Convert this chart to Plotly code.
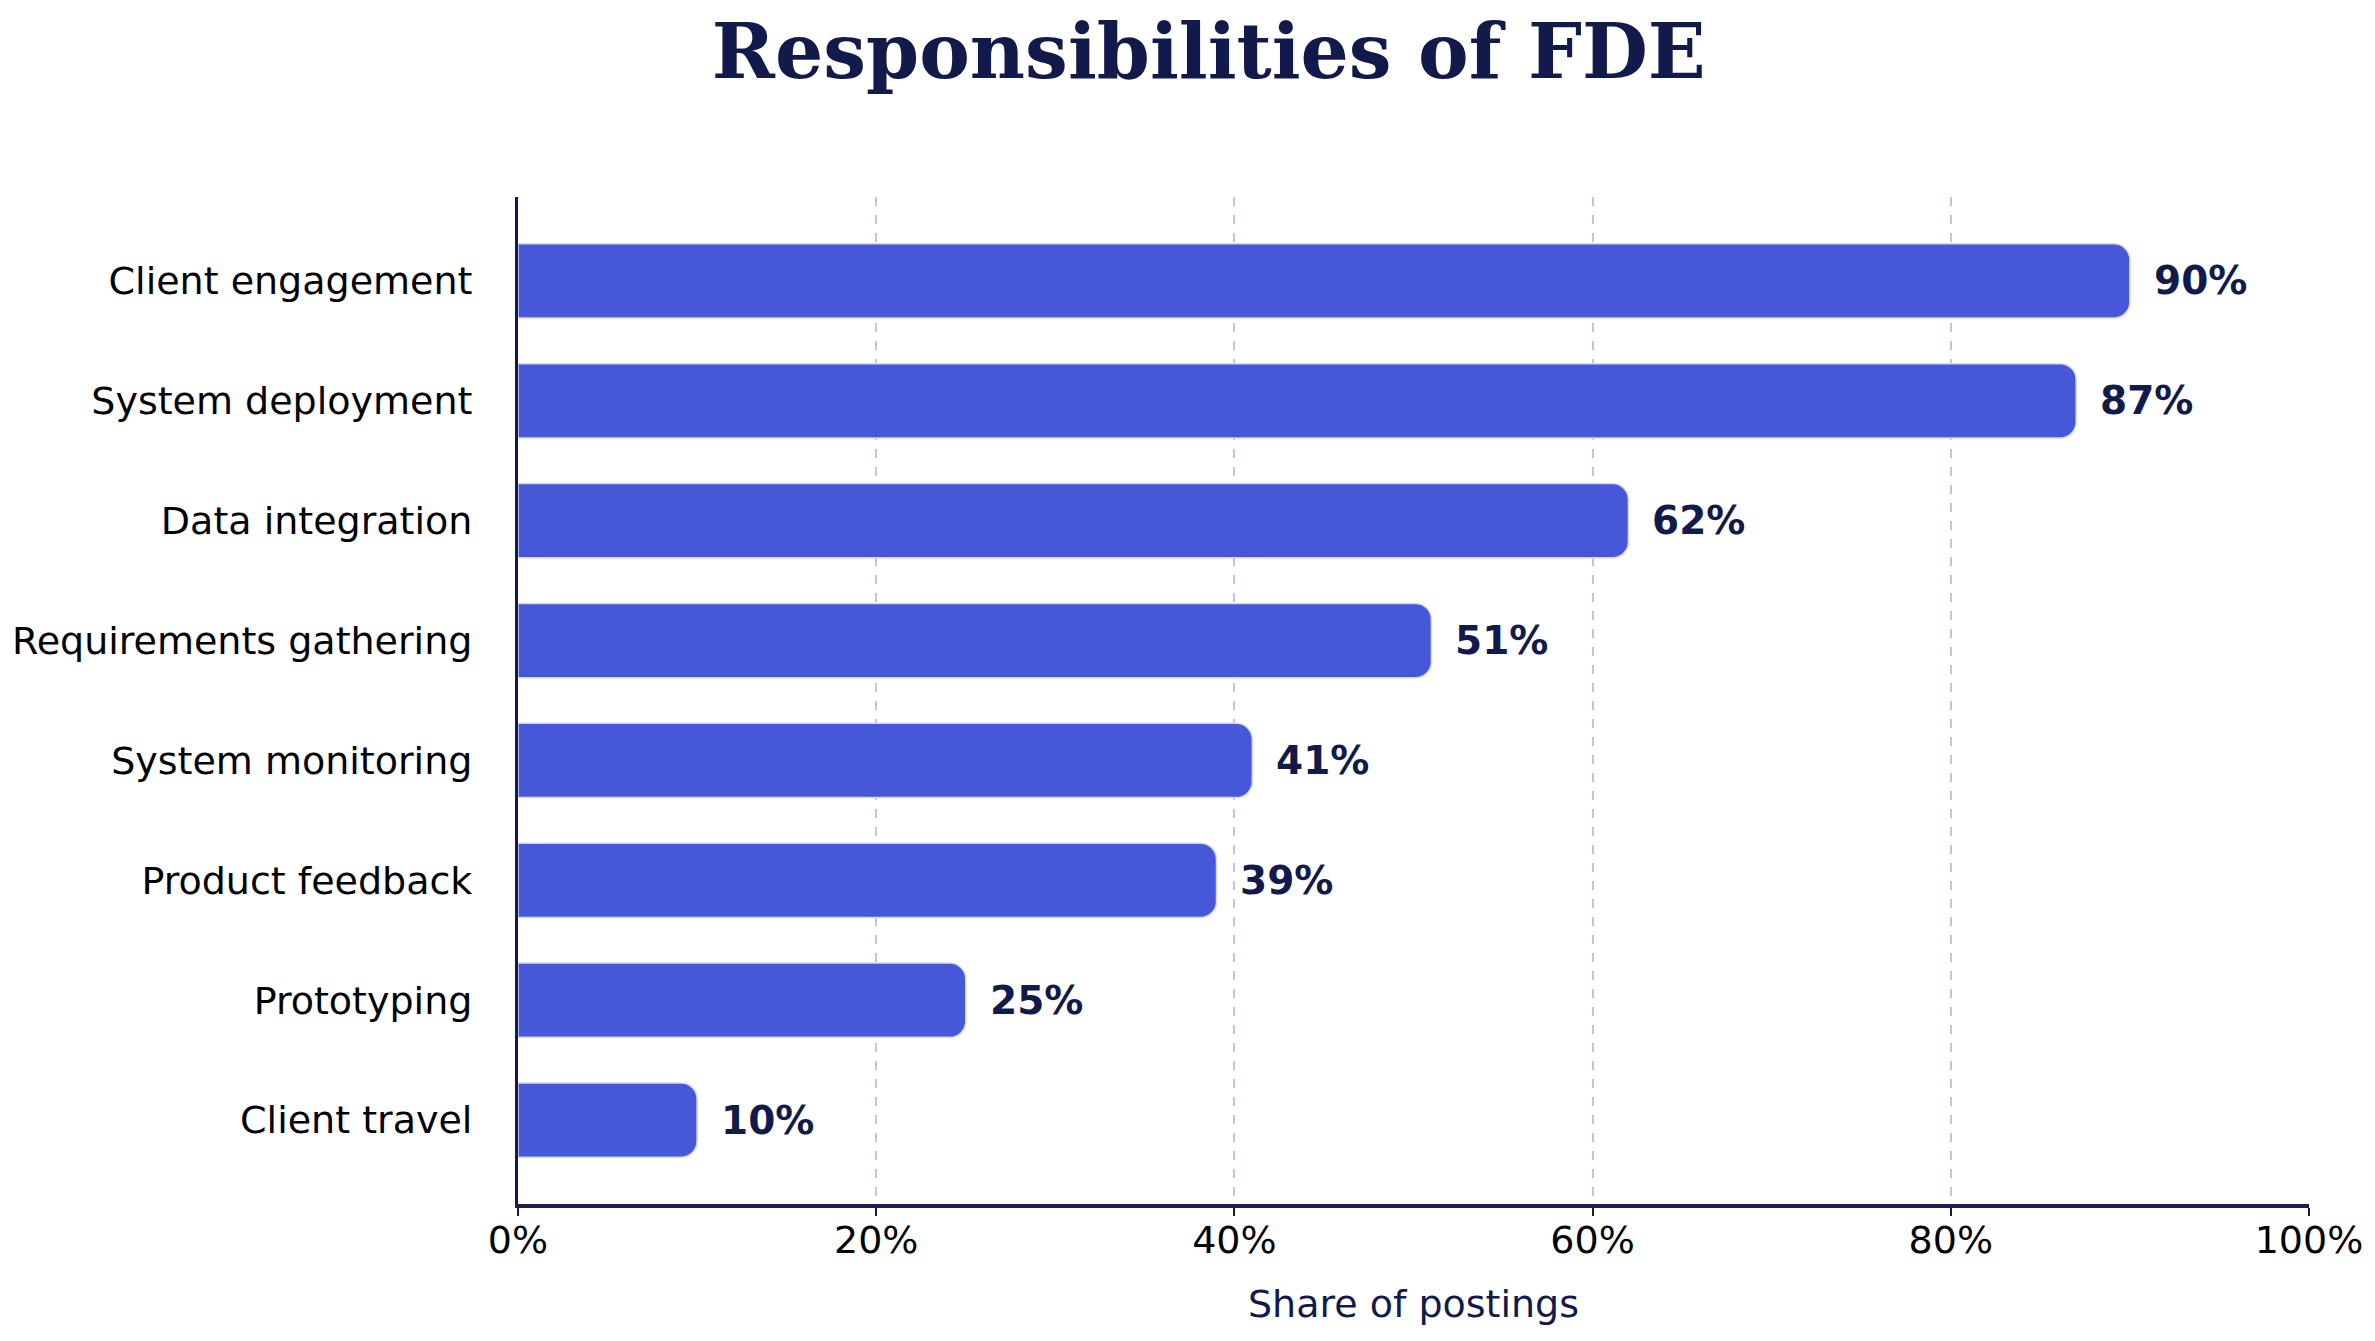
import plotly.graph_objects as go

# responsibilities, top to bottom as shown
categories = [
    "Client engagement",
    "System deployment",
    "Data integration",
    "Requirements gathering",
    "System monitoring",
    "Product feedback",
    "Prototyping",
    "Client travel",
]
shares = [90, 87, 62, 51, 41, 39, 25, 10]
value_labels = [f"{v}%" for v in shares]
x_ticks = [0, 20, 40, 60, 80, 100]
x_tick_labels = [f"{t}%" for t in x_ticks]

NAVY = "#121a4b"
BAR = "#4657d8"

# page body adds an 8px margin, so the figure is a bit smaller than the window
W, H = 2359, 1325

fig = go.Figure()
fig.add_trace(go.Bar(
    x=shares,
    y=categories,
    orientation="h",
    width=0.62,
    marker=dict(color=BAR, line=dict(color="#d4d8f6", width=1.5), cornerradius=16),
    hoverinfo="skip",
))

# value labels to the right of each bar
for cat, val, lab in zip(categories, shares, value_labels):
    fig.add_annotation(x=val, y=cat, text=f"<b>{lab}</b>", showarrow=False,
                       xanchor="left", yanchor="middle", xshift=22,
                       font=dict(family="DejaVu Sans", size=39, color=NAVY))

fig.update_layout(
    width=W, height=H,
    margin=dict(l=510, r=58, t=189, b=129),
    paper_bgcolor="white", plot_bgcolor="white",
    showlegend=False,
    font=dict(family="DejaVu Sans", size=38, color="black"),
    title=dict(text="<b>Responsibilities of FDE</b>", x=0.509, xanchor="center",
               xref="container", y=1 - 43 / H, yref="container", yanchor="middle",
               font=dict(family="DejaVu Serif", size=76, color=NAVY)),
)
fig.update_xaxes(
    range=[0, 100], tickvals=x_ticks, ticktext=x_tick_labels,
    automargin=False,
    showgrid=True, gridcolor="#c2c2ec", griddash="dash", gridwidth=2,
    zeroline=False, showline=True, linecolor="#1b2052", linewidth=4,
    ticks="outside", ticklen=8, tickwidth=2, tickcolor=NAVY,
    ticklabelstandoff=-9,
    tickfont=dict(size=38, color="black"),
    title=dict(text="Share of postings", standoff=31,
               font=dict(size=38, color=NAVY)),
)
fig.update_yaxes(
    categoryorder="array", categoryarray=categories,
    range=[len(categories) - 0.3, -0.7],
    automargin=False,
    showgrid=False, zeroline=False, showline=True, linecolor=NAVY, linewidth=3,
    ticks="", ticklabelstandoff=35,
    tickfont=dict(size=38, color="black"),
)

fig.write_html("out.html")
